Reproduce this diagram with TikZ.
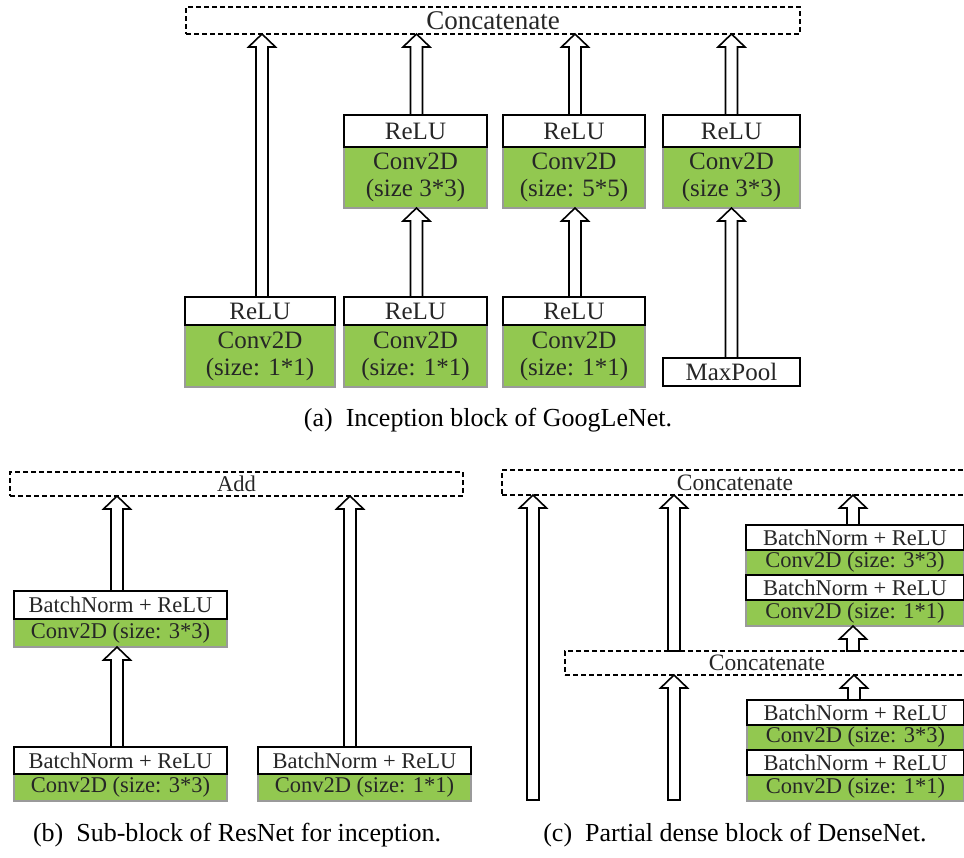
\documentclass[tikz,border=0pt]{standalone}
\usepackage{fontspec}
\setmainfont{Liberation Serif}
\usetikzlibrary{calc}

\definecolor{convgreen}{HTML}{92C850}
\definecolor{boxtext}{HTML}{262626}
\definecolor{convedge}{HTML}{9A9A9A}

\tikzset{
  base/.style={inner sep=0pt, outer sep=0pt, text=boxtext, align=center},
  reluA/.style={base, draw=black, line width=1.6pt, fill=white, font=\fontsize{25}{28}\selectfont},
  convA/.style={base, draw=convedge, line width=1.2pt, fill=convgreen, font=\fontsize{25}{27}\selectfont},
  catA/.style={base, draw=black, line width=1.1pt, dash pattern=on 5pt off 3pt, font=\fontsize{27}{30}\selectfont},
  bnB/.style={base, draw=black, line width=1.6pt, fill=white, font=\fontsize{22.5}{25}\selectfont},
  convB/.style={base, draw=convedge, line width=1.2pt, fill=convgreen, font=\fontsize{22.5}{25}\selectfont},
  catB/.style={base, draw=black, line width=1.1pt, dash pattern=on 5pt off 3pt, font=\fontsize{23.5}{26}\selectfont},
  caption/.style={inner sep=0pt, text=black, font=\fontsize{26}{30}\selectfont},
  blockarrow/.style={draw=black, fill=white, line width=1.6pt, line join=miter},
}

% hollow block arrow: tail point (#1) upwards to the height of (#2)
\newcommand{\barrow}[2]{%
  \draw[blockarrow] let \p1=#1, \p2=#2 in
    ({\x1-6pt},\y1) -- ({\x1-6pt},{\y2-13pt}) -- ({\x1-13.5pt},{\y2-13pt}) --
    (\x1,\y2) -- ({\x1+13.5pt},{\y2-13pt}) -- ({\x1+6pt},{\y2-13pt}) --
    ({\x1+6pt},\y1) -- cycle;}

\begin{document}
\begin{tikzpicture}[x=1pt, y=-1pt]
\useasboundingbox (0,0) rectangle (964,857);
\fill[white] (0,0) rectangle (964,857);

% ---------------- (a) Inception block ----------------
\node[catA, minimum width=614, minimum height=27] (catTop) at (493,20.5) {Concatenate};

\node[convA, minimum width=150, minimum height=62] (cv1) at (260,356) {Conv2D\\(size: 1*1)};
\node[reluA, minimum width=150, minimum height=28] (rl1) at (260,311) {ReLU};
\node[convA, minimum width=143, minimum height=62] (cv2) at (415.5,356) {Conv2D\\(size: 1*1)};
\node[reluA, minimum width=143, minimum height=28] (rl2) at (415.5,311) {ReLU};
\node[convA, minimum width=142, minimum height=62] (cv3) at (574,356) {Conv2D\\(size: 1*1)};
\node[reluA, minimum width=142, minimum height=28] (rl3) at (574,311) {ReLU};
\node[reluA, minimum width=137, minimum height=28] (pool) at (731.5,372) {MaxPool};

\node[convA, minimum width=143, minimum height=61] (cv5) at (415.5,177.5) {Conv2D\\(size 3*3)};
\node[reluA, minimum width=143, minimum height=32] (rl5) at (415.5,131) {ReLU};
\node[convA, minimum width=142, minimum height=61] (cv6) at (574,177.5) {Conv2D\\(size: 5*5)};
\node[reluA, minimum width=142, minimum height=32] (rl6) at (574,131) {ReLU};
\node[convA, minimum width=137, minimum height=61] (cv7) at (731.5,177.5) {Conv2D\\(size 3*3)};
\node[reluA, minimum width=137, minimum height=32] (rl7) at (731.5,131) {ReLU};

\barrow{($(rl1.north)+(2,0)$)}{(catTop.south)}
\barrow{($(rl2.north)+(1,0)$)}{(cv5.south)}
\barrow{($(rl5.north)+(1,0)$)}{(catTop.south)}
\barrow{($(rl3.north)+(1,0)$)}{(cv6.south)}
\barrow{($(rl6.north)+(1,0)$)}{(catTop.south)}
\barrow{(pool.north)}{(cv7.south)}
\barrow{(rl7.north)}{(catTop.south)}

\node[caption] (capA) at (488,420) {(a)\hspace{0.5em}Inception block of GoogLeNet.};

% ---------------- (b) ResNet sub-block ----------------
\node[catB, minimum width=453, minimum height=24, font=\fontsize{22.5}{25}\selectfont] (add) at (236.5,484) {Add};

\node[convB, minimum width=213, minimum height=28] (cvL1) at (120.5,633) {Conv2D (size: 3*3)};
\node[bnB, minimum width=213, minimum height=28] (bnL1) at (120.5,605) {BatchNorm + ReLU};
\node[convB, minimum width=213, minimum height=27] (cvL2) at (120.5,787.5) {Conv2D (size: 3*3)};
\node[bnB, minimum width=213, minimum height=27] (bnL2) at (120.5,760.5) {BatchNorm + ReLU};
\node[convB, minimum width=213, minimum height=27] (cvR) at (364.5,787.5) {Conv2D (size: 1*1)};
\node[bnB, minimum width=213, minimum height=27] (bnR) at (364.5,760.5) {BatchNorm + ReLU};

\barrow{($(bnL2.north)+(-3.5,0)$)}{(cvL1.south)}
\barrow{($(bnL1.north)+(-3.5,0)$)}{(add.south)}
\barrow{($(bnR.north)+(-14.5,0)$)}{(add.south)}

\node[caption] (capB) at (237,835) {(b)\hspace{0.5em}Sub-block of ResNet for inception.};

% ---------------- (c) DenseNet partial block ----------------
\node[catB, minimum width=466, minimum height=25] (catC1) at (735,482.5) {Concatenate};
\node[catB, minimum width=404, minimum height=24] (catC2) at (767,663) {Concatenate};

\node[convB, minimum width=218, minimum height=25] (cvU1) at (855,562.5) {Conv2D (size: 3*3)};
\node[convB, minimum width=218, minimum height=26] (cvU2) at (855,613) {Conv2D (size: 1*1)};
\node[bnB, minimum width=218, minimum height=25] (bnU1) at (855,537.5) {BatchNorm + ReLU};
\node[bnB, minimum width=218, minimum height=25] (bnU2) at (855,587.5) {BatchNorm + ReLU};

\node[convB, minimum width=217, minimum height=25] (cvD1) at (855.5,737.5) {Conv2D (size: 3*3)};
\node[convB, minimum width=217, minimum height=26] (cvD2) at (855.5,788) {Conv2D (size: 1*1)};
\node[bnB, minimum width=217, minimum height=25] (bnD1) at (855.5,712.5) {BatchNorm + ReLU};
\node[bnB, minimum width=217, minimum height=25] (bnD2) at (855.5,762.5) {BatchNorm + ReLU};

\coordinate (tailA) at (533,800);
\coordinate (tailB) at (674,800);

\barrow{(tailA)}{(catC1.south)}
\barrow{(catC2.north -| tailB)}{(catC1.south)}
\barrow{(tailB)}{(catC2.south)}
\barrow{($(bnU1.north)+(-2,0)$)}{(catC1.south)}
\barrow{($(catC2.north -| bnU1.north)+(-2,0)$)}{(cvU2.south)}
\barrow{($(bnD1.north)+(-1.5,0)$)}{(catC2.south)}

\node[caption] (capC) at (735,835) {(c)\hspace{0.5em}Partial dense block of DenseNet.};
\end{tikzpicture}
\end{document}
